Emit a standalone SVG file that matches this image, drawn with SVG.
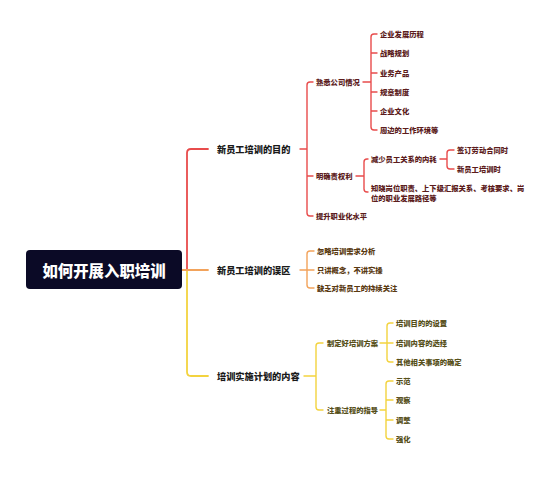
<svg xmlns="http://www.w3.org/2000/svg" width="552" height="500" viewBox="0 0 552 500">
<style>
text{font-family:"Noto Sans CJK SC","Noto Sans",sans-serif;font-weight:700;dominant-baseline:central}
.root{font-size:15.4px;fill:#ffffff;font-weight:900}
.b{font-size:9.2px;fill:#1a1a1a;font-weight:900}
.s{font-size:7.3px;font-weight:900}
.tr{fill:#5c1c1c}.to{fill:#5a3a12}.ty{fill:#57501a}
.l{fill:none;stroke-linecap:round;stroke-linejoin:round}
.r{stroke:#e84c4c}.o{stroke:#f2a35b}.y{stroke:#f3d33f}
.w1{stroke-width:1.8}.w2{stroke-width:1.4}
</style>
<rect width="552" height="500" fill="#ffffff"/>
<g id="connectors">
  <path class="l r w1" d="M208,149 H191 Q187,149 187,153 V270"/>
  <path class="l y w1" d="M187,270 V372 Q187,376 191,376 H208"/>
  <path class="l o w1" d="M182,270 H208"/>
  <path class="l r w2" d="M300,149 H307 M313,82 H310 Q307,82 307,85 V213 Q307,216 310,216 H313 M307,176 H313"/>
  <path class="l r w2" d="M363,82 H371 M377,34 H374 Q371,34 371,37 V127 Q371,130 374,130 H377 M371,53 H377 M371,73 H377 M371,92 H377 M371,111 H377"/>
  <path class="l r w2" d="M356,176 H364 M368,159 H367 Q364,159 364,162 V189 Q364,192 367,192 H368"/>
  <path class="l r w2" d="M440,159 H447 M454,150 H450 Q447,150 447,153 V166 Q447,169 450,169 H454"/>
  <path class="l o w2" d="M300,270 H307 M314,251 H310 Q307,251 307,254 V285 Q307,288 310,288 H314 M307,270 H314"/>
  <path class="l y w2" d="M304,376 H316 M323,343 H319 Q316,343 316,346 V407 Q316,410 319,410 H323"/>
  <path class="l y w2" d="M380,343 H387 M393,323 H390 Q387,323 387,326 V359 Q387,362 390,362 H393 M387,343 H393"/>
  <path class="l y w2" d="M380,410 H386 M393,381 H389 Q386,381 386,384 V436 Q386,439 389,439 H393 M386,400 H393 M386,420 H393"/>
</g>
<g id="root">
  <rect x="26" y="250" width="156" height="39" rx="4" fill="#0b0a26"/>
  <text class="root" x="104" y="270" text-anchor="middle">如何开展入职培训</text>
</g>
<g id="b1"><text class="b" x="217" y="149">新员工培训的目的</text></g>
<g id="b1-1"><text class="s tr" x="316" y="82">熟悉公司情况</text></g>
<g id="b1-1-1"><text class="s tr" x="380" y="34">企业发展历程</text></g>
<g id="b1-1-2"><text class="s tr" x="380" y="53">战略规划</text></g>
<g id="b1-1-3"><text class="s tr" x="380" y="73">业务产品</text></g>
<g id="b1-1-4"><text class="s tr" x="380" y="92">规章制度</text></g>
<g id="b1-1-5"><text class="s tr" x="380" y="111">企业文化</text></g>
<g id="b1-1-6"><text class="s tr" x="380" y="130">周边的工作环境等</text></g>
<g id="b1-2"><text class="s tr" x="316" y="176">明确责权利</text></g>
<g id="b1-2-1"><text class="s tr" x="371" y="159">减少员工关系的内耗</text></g>
<g id="b1-2-1-1"><text class="s tr" x="457" y="150">签订劳动合同时</text></g>
<g id="b1-2-1-2"><text class="s tr" x="457" y="169">新员工培训时</text></g>
<g id="b1-2-2"><text class="s tr" x="371" y="188">知晓岗位职责、上下级汇报关系、考核要求、岗</text><text class="s tr" x="371" y="197.5">位的职业发展路径等</text></g>
<g id="b1-3"><text class="s tr" x="316" y="216">提升职业化水平</text></g>
<g id="b2"><text class="b" x="217" y="270">新员工培训的误区</text></g>
<g id="b2-1"><text class="s to" x="317" y="251">忽略培训需求分析</text></g>
<g id="b2-2"><text class="s to" x="317" y="270">只讲概念，不讲实操</text></g>
<g id="b2-3"><text class="s to" x="317" y="288">缺乏对新员工的持续关注</text></g>
<g id="b3"><text class="b" x="217" y="376">培训实施计划的内容</text></g>
<g id="b3-1"><text class="s ty" x="327" y="343">制定好培训方案</text></g>
<g id="b3-1-1"><text class="s ty" x="396" y="323">培训目的的设置</text></g>
<g id="b3-1-2"><text class="s ty" x="396" y="343">培训内容的选择</text></g>
<g id="b3-1-3"><text class="s ty" x="396" y="362">其他相关事项的确定</text></g>
<g id="b3-2"><text class="s ty" x="327" y="410">注重过程的指导</text></g>
<g id="b3-2-1"><text class="s ty" x="396" y="381">示范</text></g>
<g id="b3-2-2"><text class="s ty" x="396" y="400">观察</text></g>
<g id="b3-2-3"><text class="s ty" x="396" y="420">调整</text></g>
<g id="b3-2-4"><text class="s ty" x="396" y="439">强化</text></g>
</svg>
